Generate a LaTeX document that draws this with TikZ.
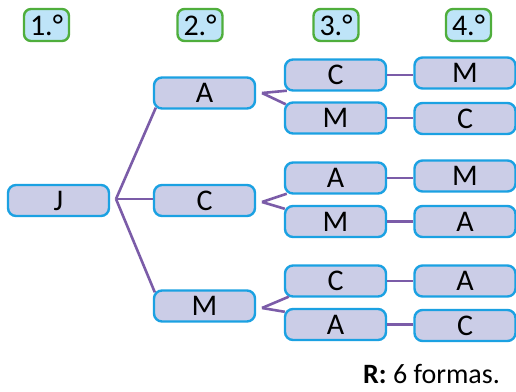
\documentclass[tikz,border=0pt]{standalone}
\usepackage{fontspec}
\setmainfont{Carlito}
\usetikzlibrary{calc}
\definecolor{boxfill}{HTML}{CBCDE7}
\definecolor{boxline}{HTML}{1BA1E2}
\definecolor{conn}{HTML}{7B5CA8}
\definecolor{hfill}{HTML}{BEE4F8}
\definecolor{hline}{HTML}{4FAE3C}
\begin{document}
\begin{tikzpicture}[x=1pt,y=-1pt,
  opt/.style={draw=boxline,fill=boxfill,line width=2.4pt,rounded corners=8pt,minimum width=101pt,minimum height=31pt,inner sep=0pt,font=\fontsize{30}{30}\selectfont},
  hdr/.style={draw=hline,fill=hfill,line width=2.4pt,rounded corners=7pt,minimum width=45pt,minimum height=32pt,inner sep=0pt,font=\fontsize{30}{30}\selectfont},
  cn/.style={draw=conn,line width=2.6pt}]
\useasboundingbox (0,0) rectangle (516,391);
% headers
\node[hdr] (h1) at (46.5,25) {1.°};
\node[hdr] (h2) at (200,25) {2.°};
\node[hdr] (h3) at (336,25) {3.°};
\node[hdr] (h4) at (468.5,25) {4.°};
% column 1
\node[opt] (J) at (58.5,200.5) {J};
% column 2
\node[opt] (A2) at (204.5,93) {A};
\node[opt] (C2) at (204.5,200.5) {C};
\node[opt] (M2) at (204.5,306) {M};
% column 3
\node[opt] (C3a) at (335.5,75) {C};
\node[opt] (M3a) at (335.5,118) {M};
\node[opt] (A3b) at (335.5,178) {A};
\node[opt] (M3b) at (335.5,221.5) {M};
\node[opt] (C3c) at (335.5,281) {C};
\node[opt] (A3c) at (335.5,324.5) {A};
% column 4
\node[opt] (M4a) at (465,73) {M};
\node[opt] (C4a) at (465,118.5) {C};
\node[opt] (M4b) at (465,176) {M};
\node[opt] (A4b) at (465,221.5) {A};
\node[opt] (A4c) at (465,281) {A};
\node[opt] (C4c) at (465,325.5) {C};
% branch points
\coordinate (bJ) at (116,199);
\coordinate (bA) at (262,93);
\coordinate (bC) at (262,202);
\coordinate (bM) at (262,308);
% connectors
\draw[cn] (bJ) -- ($(A2.south west)+(3,-2)$);
\draw[cn] (bJ) -- (C2.west |- bJ);
\draw[cn] (bJ) -- ($(M2.north west)+(2,3)$);
\draw[cn] (bA) -- ($(C3a.south west)+(3,-1)$);
\draw[cn] (bA) -- ($(M3a.north west)+(2,3)$);
\draw[cn] (bC) -- ($(A3b.south west)+(3,-1)$);
\draw[cn] (bC) -- ($(M3b.north west)+(1,4)$);
\draw[cn] (bM) -- ($(C3c.south west)+(5,-1)$);
\draw[cn] (bM) -- ($(A3c.north west)+(1,4)$);
\draw[cn] (C3a.east) -- (M4a.west |- C3a.east);
\draw[cn] (M3a.east) -- (C4a.west |- M3a.east);
\draw[cn] (A3b.east) -- (M4b.west |- A3b.east);
\draw[cn] (M3b.east) -- (A4b.west |- M3b.east);
\draw[cn] (C3c.east) -- (A4c.west |- C3c.east);
\draw[cn] (A3c.east) -- (C4c.west |- A3c.east);
% answer
\node[anchor=base east,font=\fontsize{28}{28}\selectfont,inner sep=0pt] (R) at (500,383) {\textbf{R:} 6 formas.};
\end{tikzpicture}
\end{document}
